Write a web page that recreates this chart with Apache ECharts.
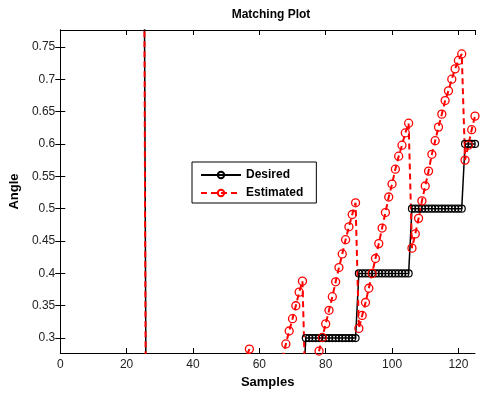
<!DOCTYPE html>
<html>
<head>
<meta charset="utf-8">
<script src="https://cdn.jsdelivr.net/npm/echarts@6/dist/echarts.min.js"></script>
<style>
html, body { margin: 0; padding: 0; background: #fff; }
#main { width: 484px; height: 394px; }
</style>
</head>
<body>
<div id="main"></div>
<script>
// 数据
var seriesNames = ['Desired', 'Estimated'];
var yTicks = [0.3, 0.35, 0.4, 0.45, 0.5, 0.55, 0.6, 0.65, 0.7, 0.75];

// samples 1..125
var desired = [
    1.3, 1.3, 1.3, 1.3, 1.3, 1.3, 1.3, 1.3, 1.3, 1.3, 1.3, 1.3, 1.3, 1.3, 1.3, 1.3, 1.3, 1.3, 1.3, 1.3, 1.3, 1.3, 1.3, 1.3, 1.3,
    0, 0, 0, 0, 0, 0, 0, 0, 0, 0, 0, 0, 0, 0, 0, 0,
    0.1, 0.1, 0.1, 0.1, 0.1, 0.1, 0.1, 0.1, 0.1, 0.1, 0.1, 0.1, 0.1, 0.1, 0.1, 0.1,
    0.2, 0.2, 0.2, 0.2, 0.2, 0.2, 0.2, 0.2, 0.2, 0.2, 0.2, 0.2, 0.2, 0.2, 0.2, 0.2,
    0.3, 0.3, 0.3, 0.3, 0.3, 0.3, 0.3, 0.3, 0.3, 0.3, 0.3, 0.3, 0.3, 0.3, 0.3, 0.3,
    0.4, 0.4, 0.4, 0.4, 0.4, 0.4, 0.4, 0.4, 0.4, 0.4, 0.4, 0.4, 0.4, 0.4, 0.4, 0.4,
    0.5, 0.5, 0.5, 0.5, 0.5, 0.5, 0.5, 0.5, 0.5, 0.5, 0.5, 0.5, 0.5, 0.5, 0.5, 0.5,
    0.6, 0.6, 0.6, 0.6
];
var estimated = [
    1.3, 1.3, 1.3, 1.3, 1.3, 1.3, 1.3, 1.3, 1.3, 1.3, 1.3, 1.3, 1.3, 1.3, 1.3, 1.3, 1.3, 1.3, 1.3, 1.3, 1.3, 1.3, 1.3, 1.3, 1.3,
    -0.12, -0.10, -0.08, -0.06, -0.04, -0.02, 0.00, 0.02, 0.04, 0.06, 0.08, 0.10, 0.12, 0.14, 0.16, 0.18,
    0.00, 0.02, 0.04, 0.06, 0.08, 0.10, 0.12, 0.14, 0.16, 0.18, 0.20, 0.22, 0.24, 0.255, 0.27, 0.283,
    0.09, 0.11, 0.13, 0.15, 0.17, 0.19, 0.21, 0.23, 0.25, 0.27, 0.291, 0.311, 0.330, 0.350, 0.371, 0.388,
    0.196, 0.217, 0.238, 0.259, 0.280, 0.301, 0.322, 0.343, 0.364, 0.387, 0.409, 0.430, 0.452, 0.472, 0.491, 0.509,
    0.315, 0.335, 0.355, 0.377, 0.400, 0.423, 0.446, 0.470, 0.494, 0.518, 0.538, 0.561, 0.581, 0.598, 0.617, 0.632,
    0.439, 0.461, 0.485, 0.512, 0.535, 0.558, 0.584, 0.605, 0.626, 0.646, 0.667, 0.682, 0.700, 0.716, 0.729, 0.739,
    0.575, 0.598, 0.622, 0.643
];

function toPairs(values) {
    var out = [];
    for (var i = 0; i < values.length; i++) {
        out.push([i + 1, values[i]]);
    }
    return out;
}

var font = 'Arial, "Liberation Sans", sans-serif';
var chart = echarts.init(document.getElementById('main'));

var option = {
    backgroundColor: '#fff',
    animation: false,
    title: {
        text: 'Matching Plot',
        left: 266,
        textAlign: 'center',
        top: 4,
        textStyle: { fontFamily: font, fontSize: 12, fontWeight: 'bold', color: '#000' }
    },
    legend: {
        left: 192,
        top: 162,
        orient: 'vertical',
        itemWidth: 40,
        itemHeight: 8,
        itemGap: 6,
        padding: [7, 13, 4, 8],
        borderColor: '#000',
        borderWidth: 1,
        backgroundColor: '#fff',
        textStyle: { fontFamily: font, fontSize: 12, fontWeight: 'bold', color: '#000' },
        data: seriesNames
    },
    grid: { left: 58, right: 9, top: 30, bottom: 41 },
    xAxis: [{
        type: 'value',
        min: 0,
        max: 125,
        interval: 20,
        name: 'Samples',
        nameLocation: 'middle',
        nameGap: 22,
        nameTextStyle: { fontFamily: font, fontSize: 13, fontWeight: 'bold', color: '#000' },
        axisLine: { lineStyle: { color: '#000', width: 1 } },
        axisTick: { inside: true, length: 5, lineStyle: { color: '#000' } },
        axisLabel: { margin: 6, fontFamily: font, fontSize: 12, color: '#222' },
        splitLine: { show: false }
    }, {
        type: 'value',
        position: 'top',
        min: 0,
        max: 125,
        interval: 20,
        axisLine: { lineStyle: { color: '#000', width: 1 } },
        axisTick: { inside: true, length: 5, lineStyle: { color: '#000' } },
        axisLabel: { show: false },
        splitLine: { show: false }
    }],
    yAxis: [{
        type: 'value',
        min: 0.277,
        max: 0.776,
        name: 'Angle',
        nameLocation: 'middle',
        nameGap: 33,
        nameTextStyle: { fontFamily: font, fontSize: 13, fontWeight: 'bold', color: '#000' },
        axisLine: { show: true, lineStyle: { color: '#000', width: 1 } },
        axisTick: { inside: true, length: 5, customValues: yTicks, lineStyle: { color: '#000' } },
        axisLabel: { margin: 5, customValues: yTicks, fontFamily: font, fontSize: 12, color: '#222' },
        splitLine: { show: false }
    }, {
        type: 'value',
        position: 'right',
        min: 0.277,
        max: 0.776,
        axisLine: { show: true, lineStyle: { color: '#000', width: 1 } },
        axisTick: { inside: true, length: 5, customValues: yTicks, lineStyle: { color: '#000' } },
        axisLabel: { show: false },
        splitLine: { show: false }
    }],
    series: [{
        name: seriesNames[0],
        type: 'line',
        xAxisIndex: 0,
        yAxisIndex: 0,
        clip: true,
        symbol: 'circle',
        symbolSize: 7,
        showAllSymbol: true,
        lineStyle: { color: '#000', width: 1.5 },
        itemStyle: { color: 'rgba(0,0,0,0)', borderColor: '#000', borderWidth: 1.2 },
        data: toPairs(desired)
    }, {
        name: seriesNames[1],
        type: 'line',
        xAxisIndex: 0,
        yAxisIndex: 0,
        clip: true,
        symbol: 'circle',
        symbolSize: 8,
        showAllSymbol: true,
        lineStyle: { color: '#f00', width: 2, type: [6, 4] },
        itemStyle: { color: 'rgba(0,0,0,0)', borderColor: '#f00', borderWidth: 1.3 },
        data: toPairs(estimated)
    }]
};

chart.setOption(option);
</script>
</body>
</html>
